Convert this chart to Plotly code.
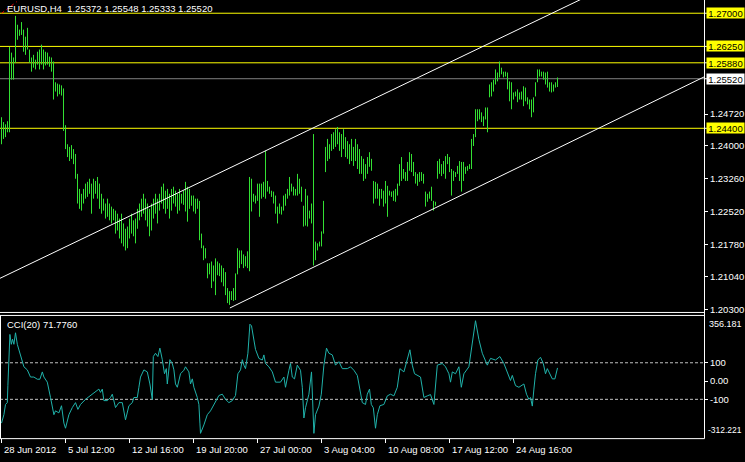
import plotly.graph_objects as go

# ---------------- data ----------------
high = [
    1.2465, 1.2454, 1.2449, 1.2456, 1.2624, 1.2611, 1.2600, 1.2694, 1.2674, 1.2663,
    1.2680, 1.2663, 1.2647, 1.2667, 1.2618, 1.2600, 1.2606, 1.2595, 1.2613, 1.2618,
    1.2629, 1.2618, 1.2613, 1.2611, 1.2602, 1.2600, 1.2591, 1.2544, 1.2541, 1.2539,
    1.2537, 1.2530, 1.2447, 1.2404, 1.2398, 1.2402, 1.2393, 1.2382, 1.2337, 1.2303,
    1.2292, 1.2303, 1.2315, 1.2319, 1.2326, 1.2315, 1.2326, 1.2321, 1.2330, 1.2315,
    1.2292, 1.2281, 1.2270, 1.2281, 1.2270, 1.2263, 1.2258, 1.2254, 1.2247, 1.2236,
    1.2247, 1.2225, 1.2213, 1.2218, 1.2236, 1.2247, 1.2232, 1.2236, 1.2258, 1.2270,
    1.2281, 1.2292, 1.2281, 1.2270, 1.2258, 1.2270, 1.2281, 1.2292, 1.2281, 1.2292,
    1.2308, 1.2315, 1.2299, 1.2303, 1.2292, 1.2303, 1.2308, 1.2299, 1.2292, 1.2303,
    1.2292, 1.2299, 1.2319, 1.2308, 1.2303, 1.2288, 1.2288, 1.2281, 1.2281, 1.2276,
    1.2202, 1.2175, 1.2169, 1.2135, 1.2135, 1.2139, 1.2130, 1.2146, 1.2139, 1.2135,
    1.2130, 1.2124, 1.2115, 1.2079, 1.2072, 1.2072, 1.2079, 1.2112, 1.2169, 1.2164,
    1.2164, 1.2155, 1.2151, 1.2162, 1.2330, 1.2326, 1.2292, 1.2288, 1.2315, 1.2315,
    1.2315, 1.2319, 1.2389, 1.2321, 1.2308, 1.2299, 1.2297, 1.2288, 1.2263, 1.2270,
    1.2263, 1.2288, 1.2292, 1.2303, 1.2330, 1.2315, 1.2308, 1.2303, 1.2337, 1.2326,
    1.2308, 1.2265, 1.2303, 1.2288, 1.2254, 1.2270, 1.2427, 1.2184, 1.2180, 1.2184,
    1.2207, 1.2276, 1.2398, 1.2416, 1.2404, 1.2427, 1.2431, 1.2438, 1.2443, 1.2431,
    1.2427, 1.2438, 1.2420, 1.2411, 1.2404, 1.2416, 1.2398, 1.2416, 1.2404, 1.2393,
    1.2377, 1.2371, 1.2359, 1.2375, 1.2386, 1.2371, 1.2321, 1.2319, 1.2315, 1.2303,
    1.2303, 1.2299, 1.2321, 1.2310, 1.2299, 1.2297, 1.2299, 1.2303, 1.2315, 1.2359,
    1.2375, 1.2348, 1.2341, 1.2364, 1.2386, 1.2382, 1.2364, 1.2341, 1.2337, 1.2341,
    1.2341, 1.2337, 1.2297, 1.2292, 1.2297, 1.2308, 1.2276, 1.2274, 1.2366, 1.2371,
    1.2359, 1.2366, 1.2377, 1.2382, 1.2375, 1.2348, 1.2344, 1.2341, 1.2355, 1.2366,
    1.2364, 1.2364, 1.2353, 1.2355, 1.2359, 1.2416, 1.2427, 1.2483, 1.2483, 1.2483,
    1.2476, 1.2467, 1.2487, 1.2487, 1.2539, 1.2544, 1.2550, 1.2573, 1.2566, 1.2591,
    1.2577, 1.2568, 1.2568, 1.2566, 1.2546, 1.2544, 1.2521, 1.2523, 1.2528, 1.2521,
    1.2523, 1.2535, 1.2532, 1.2510, 1.2505, 1.2505, 1.2510, 1.2544, 1.2573, 1.2573,
    1.2568, 1.2568, 1.2566, 1.2568, 1.2544, 1.2544, 1.2539, 1.2544, 1.25548,
]
low = [
    1.2404, 1.2416, 1.2420, 1.2431, 1.2431, 1.2550, 1.2550, 1.2588, 1.2640, 1.2649,
    1.2651, 1.2613, 1.2606, 1.2618, 1.2588, 1.2568, 1.2577, 1.2573, 1.2584, 1.2573,
    1.2584, 1.2573, 1.2582, 1.2584, 1.2579, 1.2568, 1.2505, 1.2523, 1.2512, 1.2517,
    1.2514, 1.2434, 1.2393, 1.2375, 1.2366, 1.2371, 1.2359, 1.2326, 1.2270, 1.2258,
    1.2254, 1.2270, 1.2281, 1.2285, 1.2292, 1.2247, 1.2281, 1.2292, 1.2281, 1.2258,
    1.2247, 1.2254, 1.2236, 1.2240, 1.2232, 1.2225, 1.2232, 1.2202, 1.2209, 1.2191,
    1.2180, 1.2173, 1.2164, 1.2169, 1.2191, 1.2202, 1.2196, 1.2180, 1.2213, 1.2232,
    1.2240, 1.2247, 1.2232, 1.2218, 1.2196, 1.2209, 1.2236, 1.2247, 1.2225, 1.2254,
    1.2270, 1.2258, 1.2247, 1.2258, 1.2236, 1.2254, 1.2270, 1.2263, 1.2247, 1.2254,
    1.2270, 1.2267, 1.2252, 1.2229, 1.2258, 1.2265, 1.2252, 1.2247, 1.2258, 1.2187,
    1.2169, 1.2142, 1.2146, 1.2101, 1.2110, 1.2079, 1.2094, 1.2063, 1.2108, 1.2106,
    1.2092, 1.2083, 1.2063, 1.2045, 1.2041, 1.2052, 1.2050, 1.2052, 1.2110, 1.2124,
    1.2133, 1.2124, 1.2128, 1.2124, 1.2117, 1.2252, 1.2274, 1.2270, 1.2276, 1.2240,
    1.2281, 1.2285, 1.2281, 1.2297, 1.2292, 1.2285, 1.2270, 1.2247, 1.2225, 1.2247,
    1.2245, 1.2254, 1.2265, 1.2281, 1.2288, 1.2297, 1.2288, 1.2288, 1.2288, 1.2292,
    1.2274, 1.2218, 1.2220, 1.2218, 1.2236, 1.2225, 1.2130, 1.2142, 1.2164, 1.2173,
    1.2173, 1.2202, 1.2341, 1.2366, 1.2371, 1.2389, 1.2393, 1.2398, 1.2404, 1.2389,
    1.2375, 1.2393, 1.2375, 1.2371, 1.2359, 1.2366, 1.2355, 1.2366, 1.2348, 1.2337,
    1.2337, 1.2321, 1.2326, 1.2337, 1.2353, 1.2344, 1.2270, 1.2281, 1.2281, 1.2265,
    1.2281, 1.2263, 1.2270, 1.2240, 1.2288, 1.2285, 1.2276, 1.2274, 1.2288, 1.2310,
    1.2321, 1.2326, 1.2321, 1.2321, 1.2344, 1.2341, 1.2332, 1.2315, 1.2310, 1.2319,
    1.2321, 1.2315, 1.2263, 1.2274, 1.2281, 1.2276, 1.2254, 1.2265, 1.2326, 1.2337,
    1.2332, 1.2337, 1.2326, 1.2359, 1.2341, 1.2288, 1.2321, 1.2330, 1.2337, 1.2321,
    1.2297, 1.2321, 1.2337, 1.2344, 1.2348, 1.2348, 1.2400, 1.2420, 1.2456, 1.2460,
    1.2454, 1.2445, 1.2460, 1.2431, 1.2510, 1.2512, 1.2523, 1.2539, 1.2546, 1.2555,
    1.2562, 1.2555, 1.2557, 1.2528, 1.2501, 1.2483, 1.2505, 1.2512, 1.2499, 1.2505,
    1.2505, 1.2490, 1.2501, 1.2494, 1.2483, 1.2465, 1.2476, 1.2512, 1.2544, 1.2557,
    1.2557, 1.2550, 1.2539, 1.2532, 1.2523, 1.2521, 1.2523, 1.2532, 1.25333,
]

# CCI(20) polyline vertices: bar position, value
cci_x = [0, 1.2, 2, 2.9, 3.2, 3.7, 4.2, 4.9, 5.5, 6.2, 7, 7.9, 8.7, 9.5, 10.4, 11.2, 12.9,
         14.5, 16.2, 17.9, 19.2, 20.4, 21.2, 22.9, 24.5, 26.2, 27, 28.7, 30, 31.2, 32,
         33.7, 35.4, 37, 38.2, 39.5, 42, 44.5, 47, 48.7, 49.5, 50.4, 51.2, 52.9, 54.5,
         55.4, 57, 58.7, 60.4, 62, 63.7, 65.4, 66.2, 67.9, 68.7, 69.5, 71.2, 72.9, 74.2,
         75.4, 75.9, 77, 78.2, 79.2, 80.4, 81.5, 82.4, 82.9, 84.2, 85.4, 86.2, 87, 87.9,
         89.5, 91.2, 92, 93.7, 94.5, 95.4, 96.2, 97.9, 98.7, 99.2, 99.5, 101.2, 102.9,
         104.5, 106.2, 108.7, 110.4, 112, 113.7, 115.4, 117, 118.2, 119.5, 120.4, 121.2,
         122, 123.2, 124.2, 125, 126.2, 127, 128.7, 130.4, 131.2, 132, 133.7, 135.4, 137,
         139.5, 141.2, 142, 143.7, 144.5, 145.4, 146.5, 147.9, 149.5, 150.4, 151.2, 152,
         153.7, 155, 156.2, 157, 158.7, 159.9, 161.2, 162.5, 163.7, 165.4, 167, 168.7,
         170.4, 172.9, 174.5, 176.2, 177.9, 178.7, 180.4, 182, 182.9, 184, 184.9, 185.9,
         187, 187.9, 189.2, 191.2, 192.9, 194.5, 196.2, 197.9, 199.2, 201.2, 202.9, 204.2,
         205.4, 206.5, 209.5, 211.2, 212.9, 214.5, 216.2, 217.9, 220.4, 222, 223.7, 224.5,
         225.4, 227, 228.7, 229.9, 231.2, 233.7, 235.4, 237, 238.7, 240.4, 242.9, 244.5,
         247, 249.2, 251.2, 252.9, 254.5, 255.4, 257, 258.7, 261.2, 262.5, 263.7, 264.5,
         265.4, 266.2, 267, 268.2, 269.5, 270.9, 272, 272.9, 274.5, 275.4, 276.7, 277.5, 278]
cci_v = [-230, -184, -128, -118, -23, 134, 255, 201, 229, 201, 264, 201, 173, 145, 117, 78, 61,
         22, 22, 10, 10, 50, 22, -6, -90, -184, -163, -174, -135, -230, -258,
         -184, -145, -118, -155, -128, -100, -79, -62, -44, -62, -44, -107, -107, -90,
         -72, -145, -118, -118, -212, -135, -118, -90, -90, -34, 22, 61, 50, -16,
         -100, 134, 152, 134, 180, 117, 40, 68, -16, 117, 96, 61, -16, -34,
         40, 59, 78, 50, -16, 12, -34, -90, -128, -230, -286, -240, -184,
         -163, -128, -79, -72, -100, -118, -107, -79, 40, 61, 117, 87,
         68, 152, 311, 302, 229, 173, 124, 115, 143, 96, 78, 50, -6,
         -6, 22, -34, 59, 96, 22, 12, 87, 59, -34, -202, -146,
         -72, 50, -286, -184, -137, -72, 87, 180, 152, 143, 87, 106,
         68, 68, 78, 59, 31, -16, -118, -128, -72, -44, -128, -146,
         -258, -184, -135, -128, -81, -72, -81, -34, 68, 50, 115, 171,
         87, 40, 22, -90, -81, -74, -128, 87, 96, 78, 40, -6,
         50, 40, 78, -34, 40, 78, 208, 330, 227, 152, 87, 124,
         115, 134, 96, 50, 3, 31, -25, -34, -16, -72, -100, -90,
         -137, -44, 40, 115, 130, 96, 40, 68, 31, 12, 12, 45, 71.776]

yellow_levels = [1.27000, 1.26250, 1.25880, 1.24400]
bid_level = 1.25520
price_ticks = [1.24720, 1.24000, 1.23260, 1.22520, 1.21780, 1.21040, 1.20300]
cci_levels = [100, -100]
cci_ticks = [100, 0, -100]
cci_ticktext = ["100", "0.00", "-100"]
cci_min, cci_max = -312.221, 356.181
time_tick_bars = [0, 32, 64, 96, 128, 160, 192, 224, 256]
time_tick_labels = ["28 Jun 2012", "5 Jul 12:00", "12 Jul 16:00", "19 Jul 20:00",
                    "27 Jul 00:00", "3 Aug 04:00", "10 Aug 08:00", "17 Aug 12:00",
                    "24 Aug 16:00"]
upper_channel_x = [-0.75, 290.0]
upper_channel_y = [1.2101, 1.2732]
lower_channel_x = [114.2, 351.25]
lower_channel_y = [1.2034, 1.2556]
red_line_x = [0.1, 7.6]
red_line_y = [1.2700, 1.2726]
title_text = "EURUSD,H4  1.25372 1.25548 1.25333 1.25520"
cci_title = "CCI(20) 71.7760"

assert len(high) == len(low) == 279, (len(high), len(low))
assert len(cci_x) == len(cci_v), (len(cci_x), len(cci_v))

# ---------------- figure ----------------
W, H = 745, 462
FONT = "Liberation Sans, Arial, sans-serif"
GREEN = "#33E033"

def px_x(p):
    return p / W

def px_y(p):
    return 1 - p / H

bx, by = [], []
for i, (h, l) in enumerate(zip(high, low)):
    bx += [i, i, None]
    by += [l, h, None]

fig = go.Figure()
fig.add_trace(go.Scatter(x=bx, y=by, mode="lines", line=dict(color=GREEN, width=1),
                         xaxis="x", yaxis="y", hoverinfo="skip"))
fig.add_trace(go.Scatter(x=upper_channel_x, y=upper_channel_y, mode="lines",
                         line=dict(color="white", width=1), xaxis="x", yaxis="y"))
fig.add_trace(go.Scatter(x=lower_channel_x, y=lower_channel_y, mode="lines",
                         line=dict(color="white", width=1), xaxis="x", yaxis="y"))
fig.add_trace(go.Scatter(x=red_line_x, y=red_line_y, mode="lines",
                         line=dict(color="red", width=1, dash="dot"), xaxis="x", yaxis="y"))
fig.add_trace(go.Scatter(x=cci_x, y=cci_v, mode="lines",
                         line=dict(color="#20B2AA", width=1), xaxis="x2", yaxis="y2"))

shapes = []
for lv in yellow_levels:
    shapes.append(dict(type="line", xref="x domain", yref="y", x0=0, x1=1, y0=lv, y1=lv,
                       line=dict(color="#FFFF00", width=1), layer="below"))
shapes.append(dict(type="line", xref="x domain", yref="y", x0=0, x1=1, y0=bid_level, y1=bid_level,
                   line=dict(color="#808080", width=1), layer="below"))
for lv in cci_levels:
    shapes.append(dict(type="line", xref="x2 domain", yref="y2", x0=0, x1=1, y0=lv, y1=lv,
                       line=dict(color="#C0C0C0", width=1, dash="3px,2px"), layer="below"))
# frame lines
for yy in (314.5, 317.5, 441.5):
    shapes.append(dict(type="line", xref="paper", yref="paper", x0=0, x1=px_x(704.5),
                       y0=px_y(yy), y1=px_y(yy), line=dict(color="white", width=1)))
shapes.append(dict(type="line", xref="paper", yref="paper", x0=px_x(704.5), x1=px_x(704.5),
                   y0=px_y(0), y1=px_y(441.5), line=dict(color="white", width=1)))
shapes.append(dict(type="line", xref="paper", yref="paper", x0=px_x(0.5), x1=px_x(0.5),
                   y0=px_y(317.5), y1=px_y(441.5), line=dict(color="white", width=1)))
# right-axis tick marks for highlighted levels
for lv in yellow_levels + [bid_level]:
    shapes.append(dict(type="line", xref="paper", yref="y", x0=px_x(704.5), x1=px_x(707.5),
                       y0=lv, y1=lv, line=dict(color="white", width=1)))

annotations = []
annotations.append(dict(text=title_text, xref="paper", yref="paper", x=px_x(5), y=px_y(8.5),
                        xanchor="left", yanchor="middle", showarrow=False,
                        font=dict(family=FONT, size=9.5, color="white")))
annotations.append(dict(text=cci_title, xref="paper", yref="paper", x=px_x(5), y=px_y(327),
                        xanchor="left", yanchor="middle", showarrow=False,
                        font=dict(family=FONT, size=9.5, color="white")))
for lv in yellow_levels:
    annotations.append(dict(text=f"{lv:.5f}", xref="paper", yref="y", x=px_x(706), y=lv,
                            xanchor="left", yanchor="middle", showarrow=False,
                            bgcolor="#FFFF00", borderpad=0, height=10, width=37,
                            font=dict(family=FONT, size=9.5, color="black")))
annotations.append(dict(text=f"{bid_level:.5f}", xref="paper", yref="y", x=px_x(706), y=bid_level,
                        xanchor="left", yanchor="middle", showarrow=False,
                        bgcolor="#FFFFFF", borderpad=0, height=10, width=37,
                        font=dict(family=FONT, size=9.5, color="black")))
annotations.append(dict(text=f"{cci_max:.3f}", xref="paper", yref="y2", x=px_x(707), y=cci_max,
                        xanchor="left", yanchor="top", showarrow=False, yshift=-1,
                        font=dict(family=FONT, size=9, color="white")))
annotations.append(dict(text=f"{cci_min:.3f}", xref="paper", yref="y2", x=px_x(706), y=cci_min,
                        xanchor="left", yanchor="bottom", showarrow=False, yshift=1,
                        font=dict(family=FONT, size=8.5, color="white")))
for b, lab in zip(time_tick_bars, time_tick_labels):
    annotations.append(dict(text=lab, xref="x2", yref="paper", x=b, y=px_y(452),
                            xanchor="left", yanchor="middle", showarrow=False, xshift=0,
                            font=dict(family=FONT, size=9.5, color="white")))

dom_x = [0, 704 / W]
fig.update_layout(
    width=W, height=H, margin=dict(l=0, r=0, t=0, b=0),
    paper_bgcolor="black", plot_bgcolor="black", showlegend=False, hovermode=False,
    xaxis=dict(domain=dom_x, range=[-0.75, 351.25], showgrid=False, zeroline=False,
               showticklabels=False, ticks="", anchor="y"),
    xaxis2=dict(domain=dom_x, range=[-0.75, 351.25], showgrid=False, zeroline=False,
                showticklabels=False, ticks="outside", ticklen=4, tickcolor="white",
                tickvals=time_tick_bars, anchor="y2", matches="x"),
    yaxis=dict(domain=[px_y(314), 1], range=[1.27299 - 314 * 0.0002245, 1.27299],
               side="right", anchor="x", showgrid=False, zeroline=False,
               tickvals=price_ticks, ticktext=[f"{v:.5f}" for v in price_ticks],
               ticks="outside", ticklen=3, tickcolor="white",
               tickfont=dict(family=FONT, size=9.5, color="white")),
    yaxis2=dict(domain=[px_y(441), px_y(318)], range=[cci_min, cci_max],
                side="right", anchor="x2", showgrid=False, zeroline=False,
                tickvals=cci_ticks, ticktext=cci_ticktext,
                ticks="outside", ticklen=3, tickcolor="white",
                tickfont=dict(family=FONT, size=9.5, color="white")),
    shapes=shapes, annotations=annotations,
)

fig.write_html("out.html", config={"displayModeBar": False},
               post_script="document.body.style.margin='0';document.body.style.background='black';")
